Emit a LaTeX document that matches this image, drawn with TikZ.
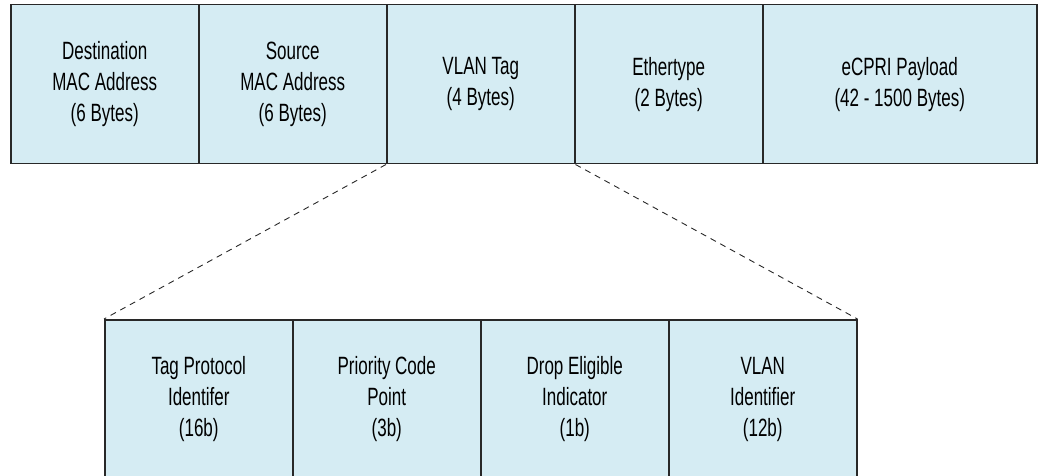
\documentclass[tikz,border=0pt]{standalone}
\usepackage{fontspec}
\setmainfont{Liberation Sans}[FakeStretch=0.68]
\definecolor{cellblue}{RGB}{213,236,243}
\definecolor{edge}{RGB}{40,40,40}
\begin{document}
    \begin{tikzpicture}[
        x = 1pt,
        y = -1pt,
        cell/.style = {
            draw = edge, fill = cellblue, line width = 1.5pt,
            minimum height = 159pt, minimum width = 188pt,
            inner sep = 0pt, anchor = north west, align = center,
            font = \fontsize{25}{31}\selectfont
        },
        slice/.style = {draw = edge, line width = .9pt, dash pattern = on 6pt off 5pt}
    ]
        \useasboundingbox (0,0) rectangle (1039,476);
        \clip (0,0) rectangle (1039,476);
        % ethernet frame
        \begin{scope}[shift={(10,4)}]
            \node[cell] (dst) at (0,0) {Destination\\MAC Address\\(6 Bytes)};
            \node[cell] (src) at (188,0) {Source\\MAC Address\\(6 Bytes)};
            \node[cell] (vlan) at (376,0) {VLAN Tag\\(4 Bytes)};
            \node[cell] (etype) at (564,0) {Ethertype\\(2 Bytes)};
            \node[cell, minimum width = 274pt] (payload) at (752,0) {eCPRI Payload\\(42 - 1500 Bytes)};
        \end{scope}
        % vlan tag fields
        \begin{scope}[shift={(104,319)}]
            \node[cell] (tpid) at (0,0) {Tag Protocol\\Identifer\\(16b)};
            \node[cell] (pcp) at (188,0) {Priority Code\\Point\\(3b)};
            \node[cell] (dei) at (376,0) {Drop Eligible\\Indicator\\(1b)};
            \node[cell] (vid) at (564,0) {VLAN\\Identifier\\(12b)};
        \end{scope}
        \draw[slice] (vlan.south west) -- (tpid.north west);
        \draw[slice] (vlan.south east) -- (vid.north east);
    \end{tikzpicture}
\end{document}
